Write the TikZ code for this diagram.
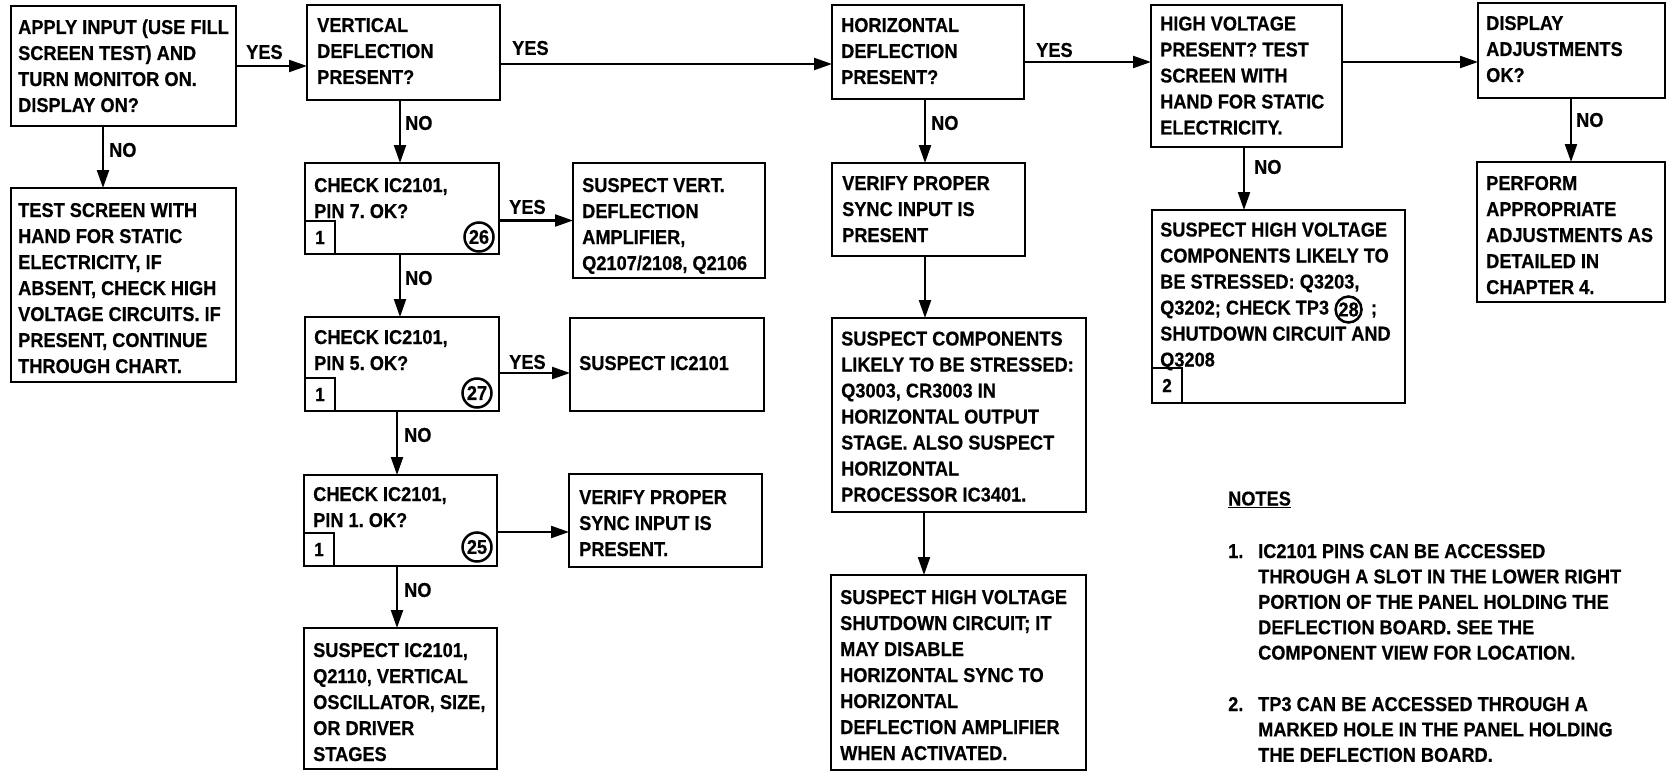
\documentclass[tikz,border=0pt]{standalone}
\usepackage{fontspec}
\setmainfont{Liberation Sans}[FakeStretch=0.91, BoldFeatures={FakeBold=0.5}]
\usetikzlibrary{arrows.meta,calc}
\newcommand\tl[1]{\begin{tabular}[t]{@{}l@{}}#1\end{tabular}}
\frenchspacing
\begin{document}
\begin{tikzpicture}[x=1pt,y=-1pt,
  box/.style={draw, line width=2.6pt, outer sep=0pt, inner sep=0pt, anchor=north west},
  txt/.style={anchor=base west, inner sep=0pt, font=\fontsize{20}{26}\selectfont\bfseries},
  ntxt/.style={anchor=base west, inner sep=0pt, font=\fontsize{20}{25.4}\selectfont\bfseries},
  lbl/.style={anchor=west, inner sep=0pt, font=\fontsize{20}{26}\selectfont\bfseries},
  tag/.style={draw, line width=2.4pt, outer sep=0pt, inner sep=0pt, minimum width=30pt, minimum height=33pt, anchor=south west, font=\fontsize{19}{20}\selectfont\bfseries},
  cnum/.style={draw, circle, line width=2.5pt, minimum size=29pt, inner sep=0pt, font=\fontsize{20}{20}\selectfont\bfseries},
  arr/.style={line width=2.2pt, -{Triangle[length=18pt,width=12pt]}},
]
\useasboundingbox (0,0) rectangle (1668,776);
% boxes
\node[box, minimum width=225pt, minimum height=120pt] (A) at (11,6) {};
\node[box, minimum width=225pt, minimum height=194pt] (C) at (11,188) {};
\node[box, minimum width=193pt, minimum height=95pt] (B) at (307,5) {};
\node[box, minimum width=194pt, minimum height=91pt] (D) at (305,163) {};
\node[box, minimum width=194pt, minimum height=94pt] (E) at (305,317) {};
\node[box, minimum width=193pt, minimum height=91pt] (F) at (304,475) {};
\node[box, minimum width=193pt, minimum height=141pt] (G) at (304,628) {};
\node[box, minimum width=192pt, minimum height=115pt] (I) at (573,163) {};
\node[box, minimum width=194pt, minimum height=93pt] (J) at (570,318) {};
\node[box, minimum width=193pt, minimum height=93pt] (M) at (569,474) {};
\node[box, minimum width=192pt, minimum height=94pt] (H) at (832,5) {};
\node[box, minimum width=193pt, minimum height=93pt] (K) at (832,163) {};
\node[box, minimum width=254pt, minimum height=194pt] (L) at (832,318) {};
\node[box, minimum width=255pt, minimum height=195pt] (N) at (831,575) {};
\node[box, minimum width=191pt, minimum height=142pt] (O) at (1151,5) {};
\node[box, minimum width=253pt, minimum height=193pt] (R) at (1152,210) {};
\node[box, minimum width=187pt, minimum height=95pt] (P) at (1478,3) {};
\node[box, minimum width=188pt, minimum height=140pt] (Q) at (1477,162) {};
% texts
\node[txt] (At) at ($(A.north west)+(7,28)$) {\tl{APPLY INPUT (USE FILL\\SCREEN TEST) AND\\TURN MONITOR ON.\\DISPLAY ON?}};
\node[txt] (Ct) at ($(C.north west)+(7,29)$) {\tl{TEST SCREEN WITH\\HAND FOR STATIC\\ELECTRICITY, IF\\ABSENT, CHECK HIGH\\VOLTAGE CIRCUITS. IF\\PRESENT, CONTINUE\\THROUGH CHART.}};
\node[txt] (Bt) at ($(B.north west)+(10,27)$) {\tl{VERTICAL\\DEFLECTION\\PRESENT?}};
\node[txt] (Dt) at ($(D.north west)+(9,29)$) {\tl{CHECK IC2101,\\PIN 7. OK?}};
\node[txt] (Et) at ($(E.north west)+(9,27)$) {\tl{CHECK IC2101,\\PIN 5. OK?}};
\node[txt] (Ft) at ($(F.north west)+(9,26)$) {\tl{CHECK IC2101,\\PIN 1. OK?}};
\node[txt] (Gt) at ($(G.north west)+(9,29)$) {\tl{SUSPECT IC2101,\\Q2110, VERTICAL\\OSCILLATOR, SIZE,\\OR DRIVER\\STAGES}};
\node[txt] (It) at ($(I.north west)+(9,29)$) {\tl{SUSPECT VERT.\\DEFLECTION\\AMPLIFIER,\\Q2107/2108, Q2106}};
\node[txt] (Jt) at ($(J.north west)+(9,52)$) {SUSPECT IC2101};
\node[txt] (Mt) at ($(M.north west)+(10,30)$) {\tl{VERIFY PROPER\\SYNC INPUT IS\\PRESENT.}};
\node[txt] (Ht) at ($(H.north west)+(9,27)$) {\tl{HORIZONTAL\\DEFLECTION\\PRESENT?}};
\node[txt] (Kt) at ($(K.north west)+(10,27)$) {\tl{VERIFY PROPER\\SYNC INPUT IS\\PRESENT}};
\node[txt] (Lt) at ($(L.north west)+(9,27.5)$) {\tl{SUSPECT COMPONENTS\\LIKELY TO BE STRESSED:\\Q3003, CR3003 IN\\HORIZONTAL OUTPUT\\STAGE. ALSO SUSPECT\\HORIZONTAL\\PROCESSOR IC3401.}};
\node[txt] (Nt) at ($(N.north west)+(9,29)$) {\tl{SUSPECT HIGH VOLTAGE\\SHUTDOWN CIRCUIT; IT\\MAY DISABLE\\HORIZONTAL SYNC TO\\HORIZONTAL\\DEFLECTION AMPLIFIER\\WHEN ACTIVATED.}};
\node[txt] (Ot) at ($(O.north west)+(9,25.5)$) {\tl{HIGH VOLTAGE\\PRESENT? TEST\\SCREEN WITH\\HAND FOR STATIC\\ELECTRICITY.}};
\node[txt] (Rt) at ($(R.north west)+(8,26.5)$) {\tl{SUSPECT HIGH VOLTAGE\\COMPONENTS LIKELY TO\\BE STRESSED: Q3203,}};
\node[txt] (Rt4) at ($(R.north west)+(8,104.5)$) {Q3202; CHECK TP3};
\node[cnum, minimum size=26pt, anchor=west] (R28) at ($(Rt4.base east)+(5,-5)$) {28};
\node[txt] (Rt4b) at ($(R28.east |- Rt4.base)+(8,0)$) {;};
\node[txt] (Rt5) at ($(R.north west)+(8,130.5)$) {\tl{SHUTDOWN CIRCUIT AND\\Q3208}};
\node[txt] (Pt) at ($(P.north west)+(8,27)$) {\tl{DISPLAY\\ADJUSTMENTS\\OK?}};
\node[txt] (Qt) at ($(Q.north west)+(9,28)$) {\tl{PERFORM\\APPROPRIATE\\ADJUSTMENTS AS\\DETAILED IN\\CHAPTER 4.}};
% tags and circled numbers
\node[tag] (D1) at (D.south west) {1};
\node[tag] (E1) at (E.south west) {1};
\node[tag] (F1) at (F.south west) {1};
\node[tag, minimum height=35pt] (R2) at (R.south west) {2};
\node[cnum] (D26) at ($(D.south east)+(-20,-17)$) {26};
\node[cnum] (E27) at ($(E.south east)+(-22,-18)$) {27};
\node[cnum] (F25) at ($(F.south east)+(-20,-19)$) {25};
% connectors
\coordinate (a1) at ($(A.south west)+(92,0)$);
\coordinate (b1) at ($(B.north east)+(0,59)$);
\coordinate (b2) at ($(B.south west)+(93,0)$);
\coordinate (d2) at ($(D.south west)+(95,0)$);
\coordinate (e1) at ($(E.north east)+(0,56)$);
\coordinate (e2) at ($(E.south west)+(92,0)$);
\coordinate (f1) at ($(F.north east)+(0,57)$);
\coordinate (f2) at ($(F.south west)+(93,0)$);
\coordinate (h1) at ($(H.north east)+(0,57)$);
\coordinate (h2) at ($(H.south west)+(93,0)$);
\coordinate (k2) at ($(K.south west)+(93,0)$);
\coordinate (l2) at ($(L.south west)+(92,0)$);
\coordinate (o1) at ($(O.north east)+(0,57)$);
\coordinate (o2) at ($(O.south west)+(93,0)$);
\coordinate (p2) at ($(P.south west)+(93,0)$);
\draw[arr] (A.east) -- (A.east -| B.west);
\draw[arr] (a1) -- (a1 |- C.north);
\draw[arr] (b1) -- (b1 -| H.west);
\draw[arr] (b2) -- (b2 |- D.north);
\draw[arr] (D.east |- I.west) -- (I.west);
\draw[arr] (d2) -- (d2 |- E.north);
\draw[arr] (e1) -- (e1 -| J.west);
\draw[arr] (e2) -- (e2 |- F.north);
\draw[arr] (f1) -- (f1 -| M.west);
\draw[arr] (f2) -- (f2 |- G.north);
\draw[arr] (h1) -- (h1 -| O.west);
\draw[arr] (h2) -- (h2 |- K.north);
\draw[arr] (k2) -- (k2 |- L.north);
\draw[arr] (l2) -- (l2 |- N.north);
\draw[arr] (o1) -- (o1 -| P.west);
\draw[arr] (o2) -- (o2 |- R.north);
\draw[arr] (p2) -- (p2 |- Q.north);
% labels
\node[lbl] (y1) at (246,52) {YES};
\node[lbl] (n1) at (109,150) {NO};
\node[lbl] (y2) at (512,48) {YES};
\node[lbl] (n2) at (405,123) {NO};
\node[lbl] (y3) at (509,207) {YES};
\node[lbl] (n3) at (405,278) {NO};
\node[lbl] (y4) at (509,362) {YES};
\node[lbl] (n4) at (404,435) {NO};
\node[lbl] (n5) at (404,590) {NO};
\node[lbl] (n6) at (931,123) {NO};
\node[lbl] (y5) at (1036,50) {YES};
\node[lbl] (n7) at (1254,167) {NO};
\node[lbl] (n8) at (1576,120) {NO};
% notes
\node[txt] (notes) at (1228,505.5) {\underline{NOTES}};
\node[ntxt] (nn1) at (1228,558) {1.};
\node[ntxt] (nt1) at (1258,558) {\tl{IC2101 PINS CAN BE ACCESSED\\THROUGH A SLOT IN THE LOWER RIGHT\\PORTION OF THE PANEL HOLDING THE\\DEFLECTION BOARD. SEE THE\\COMPONENT VIEW FOR LOCATION.}};
\node[ntxt] (nn2) at (1228,711) {2.};
\node[ntxt] (nt2) at (1258,711) {\tl{TP3 CAN BE ACCESSED THROUGH A\\MARKED HOLE IN THE PANEL HOLDING\\THE DEFLECTION BOARD.}};
\end{tikzpicture}
\end{document}
